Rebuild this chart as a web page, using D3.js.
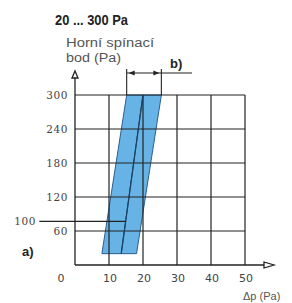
<!DOCTYPE html>
<html>
<head>
<meta charset="utf-8">
<script src="https://cdn.jsdelivr.net/npm/d3@7"></script>
<style>
  body { margin: 0; background: #fff; }
  svg { display: block; }
</style>
</head>
<body>
<svg width="292" height="303"></svg>
<script>
// data
var xTicks = [10, 20, 30, 40, 50];
var yTicks = [60, 120, 180, 240, 300];
var bandBottom = 20, bandTop = 300;
var leftEdge = [7.9, 15.2];    // [at bottom, at top]
var middleLine = [13.6, 20];
var rightEdge = [18.1, 25.4];
var refLine = { label: "100", value: 77, from: -10.5 };

var svg = d3.select("svg");

var x = d3.scaleLinear().domain([0, 50]).range([75, 245]);
var y = d3.scaleLinear().domain([0, 300]).range([265, 95]);

// two halves of the band
function quad(a, b) {
  return [[a[0], bandBottom], [a[1], bandTop], [b[1], bandTop], [b[0], bandBottom]];
}
var line = d3.line().x(function(d) { return x(d[0]); }).y(function(d) { return y(d[1]); });

svg.append("g").selectAll("path")
    .data([quad(leftEdge, middleLine), quad(middleLine, rightEdge)])
  .enter().append("path")
    .attr("d", function(d) { return line(d) + "Z"; })
    .attr("fill", "#68b3e6")
    .attr("stroke", "#2b5f8e")
    .attr("stroke-width", 1);

// grid
var grid = svg.append("g").attr("stroke", "#222").attr("stroke-width", 1.2);
grid.selectAll(".h").data(yTicks).enter().append("line")
    .attr("x1", x(0)).attr("x2", x(50))
    .attr("y1", y).attr("y2", y);
grid.selectAll(".v").data(xTicks).enter().append("line")
    .attr("x1", x).attr("x2", x)
    .attr("y1", y(0)).attr("y2", y(300));

// middle divider drawn darker on top
svg.append("path")
    .attr("d", line([[middleLine[0], bandBottom], [middleLine[1], bandTop]]))
    .attr("stroke", "#1d3f63").attr("stroke-width", 1.2).attr("fill", "none");

// 100 reference line, stops at the divider
var t = (refLine.value - bandBottom) / (bandTop - bandBottom);
var refEnd = middleLine[0] + t * (middleLine[1] - middleLine[0]);
svg.append("line")
    .attr("x1", x(refLine.from)).attr("x2", x(refEnd))
    .attr("y1", y(refLine.value)).attr("y2", y(refLine.value))
    .attr("stroke", "#222").attr("stroke-width", 1.2);

// axes with hollow arrows
var axes = svg.append("g").attr("stroke", "#222").attr("stroke-width", 1.3).attr("fill", "none");
axes.append("line").attr("x1", x(0)).attr("x2", 264).attr("y1", y(0)).attr("y2", y(0));
axes.append("line").attr("x1", x(0)).attr("x2", x(0)).attr("y1", y(0)).attr("y2", 78);
axes.append("path").attr("d", "M264," + (y(0) - 3) + "L274," + y(0) + "L264," + (y(0) + 3) + "Z");
axes.append("path").attr("d", "M" + (x(0) - 3) + ",78L" + x(0) + ",71L" + (x(0) + 3) + ",78Z");

// tick labels
svg.append("g").selectAll("text").data(yTicks).enter().append("text")
    .attr("x", 68).attr("y", function(d) { return y(d) + 4; })
    .attr("text-anchor", "end")
    .attr("font-family", "DejaVu Serif").attr("font-size", 10.5)
    .attr("letter-spacing", 0.6).attr("fill", "#444")
    .text(function(d) { return d; });

svg.append("text")
    .attr("x", 36).attr("y", y(refLine.value) + 4)
    .attr("text-anchor", "end")
    .attr("font-family", "DejaVu Serif").attr("font-size", 10.5)
    .attr("letter-spacing", 0.6).attr("fill", "#444")
    .text(refLine.label);

svg.append("g").selectAll("text").data([0].concat(xTicks)).enter().append("text")
    .attr("x", function(d) { return d === 0 ? x(0) - 14 : x(d) + 1; })
    .attr("y", 282)
    .attr("text-anchor", "middle")
    .attr("font-family", "DejaVu Sans").attr("font-size", 11)
    .attr("fill", "#444")
    .text(function(d) { return d; });

// titles and notes
svg.append("text")
    .attr("x", 55).attr("y", 25)
    .attr("font-family", "Liberation Sans").attr("font-weight", "bold")
    .attr("font-size", 14).attr("fill", "#222")
    .attr("textLength", 73).attr("lengthAdjust", "spacingAndGlyphs")
    .text("20 ... 300 Pa");

svg.append("text")
    .attr("x", 66).attr("y", 47)
    .attr("font-family", "Liberation Sans").attr("font-size", 12)
    .attr("fill", "#555")
    .attr("textLength", 88).attr("lengthAdjust", "spacingAndGlyphs")
    .text("Horní spínací");
svg.append("text")
    .attr("x", 66).attr("y", 62)
    .attr("font-family", "Liberation Sans").attr("font-size", 12)
    .attr("fill", "#555")
    .attr("textLength", 55).attr("lengthAdjust", "spacingAndGlyphs")
    .text("bod (Pa)");

svg.append("text")
    .attr("x", 243).attr("y", 300)
    .attr("font-family", "Liberation Sans").attr("font-size", 11)
    .attr("fill", "#555")
    .text("Δp (Pa)");

svg.append("text")
    .attr("x", 22).attr("y", 256)
    .attr("font-family", "Liberation Sans").attr("font-weight", "bold")
    .attr("font-size", 13).attr("fill", "#222")
    .text("a)");

// b) dimension between band edges at the top
var bx1 = x(leftEdge[1]), bx2 = x(rightEdge[1]), by = 73;
var dim = svg.append("g").attr("stroke", "#222").attr("stroke-width", 1.1);
dim.append("line").attr("x1", bx1).attr("x2", bx1).attr("y1", 69).attr("y2", y(300));
dim.append("line").attr("x1", bx2).attr("x2", bx2).attr("y1", 69).attr("y2", y(300));
dim.append("line").attr("x1", bx1).attr("x2", 192).attr("y1", by).attr("y2", by);
svg.append("path")
    .attr("d", "M" + (bx1 + 2) + "," + by + "l6,-2.5v5Z" +
               "M" + (bx2 - 2) + "," + by + "l-6,-2.5v5Z")
    .attr("fill", "#222");
svg.append("text")
    .attr("x", 170).attr("y", 68)
    .attr("font-family", "Liberation Sans").attr("font-weight", "bold")
    .attr("font-size", 13).attr("fill", "#222")
    .text("b)");
</script>
</body>
</html>
